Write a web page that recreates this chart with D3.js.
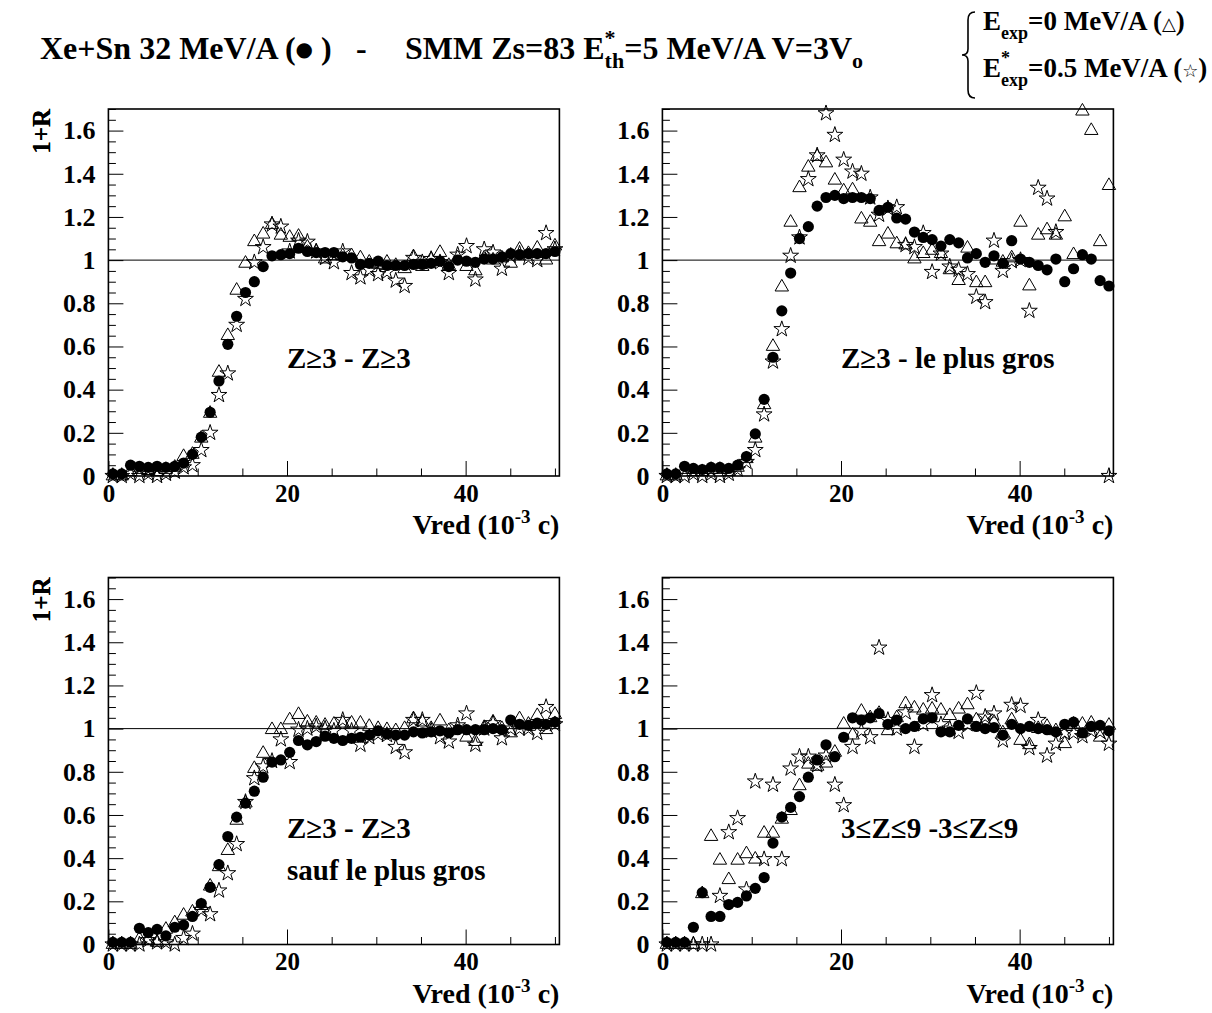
<!DOCTYPE html>
<html><head><meta charset="utf-8">
<script src="https://cdn.jsdelivr.net/npm/d3@7"></script>
<style>
body{margin:0;background:#fff;}
svg{display:block;background:#fff;}
text{font-family:"Liberation Serif","Times New Roman",serif;font-weight:bold;fill:#000;}
</style></head><body>
<svg id="c" width="1212" height="1013"></svg>
<script>
// ---------- data ----------
const vred = [0.50,1.49,2.48,3.47,4.46,5.45,6.44,7.43,8.42,9.41,10.40,11.39,12.38,13.37,14.36,15.35,16.34,17.33,18.32,19.31,20.30,21.29,22.28,23.27,24.26,25.25,26.24,27.23,28.22,29.21,30.20,31.19,32.18,33.17,34.16,35.15,36.14,37.13,38.12,39.11,40.10,41.09,42.08,43.07,44.06,45.05,46.04,47.03,48.02,49.01,50.00];

// Panel 1 : Z>=3 - Z>=3
const circ1 = [0.01,0.01,0.05,0.045,0.04,0.045,0.04,0.045,0.06,0.10,0.18,0.295,0.44,0.61,0.74,0.85,0.90,0.97,1.02,1.025,1.03,1.055,1.04,1.035,1.035,1.035,1.015,1.01,0.98,0.985,0.995,0.975,0.975,0.975,0.98,0.98,0.985,0.995,0.97,1.0,0.995,0.99,1.005,1.005,1.015,1.03,1.025,1.03,1.03,1.03,1.04];
const tri1  = [0.0,0.0,0.02,0.03,0.025,0.02,0.03,0.04,0.09,0.10,0.175,0.29,0.48,0.65,0.86,0.985,1.085,1.12,1.165,1.115,1.105,1.11,1.06,1.04,1.005,1.02,1.02,1.02,1.01,0.99,0.98,0.99,0.975,0.96,1.015,0.97,1.005,1.035,0.975,1.01,0.97,0.95,1.01,1.0,1.01,0.985,1.05,1.03,1.055,1.0,1.065];
const star1 = [0.0,0.0,0.01,0.0,0.01,0.0,0.01,0.02,0.04,0.05,0.12,0.20,0.375,0.475,0.70,0.82,0.99,1.06,1.165,1.155,1.04,1.09,1.085,1.04,1.01,0.99,1.04,0.94,0.92,0.955,0.935,0.945,0.905,0.88,1.01,0.99,1.005,0.99,0.94,1.025,1.065,0.91,1.05,1.035,0.96,1.02,1.03,1.01,1.0,1.125,1.05];

// Panel 2 : Z>=3 - le plus gros
const circ2 = [0.01,0.01,0.045,0.035,0.03,0.04,0.04,0.035,0.05,0.09,0.195,0.355,0.55,0.765,0.94,1.10,1.155,1.25,1.29,1.30,1.285,1.29,1.29,1.285,1.23,1.245,1.195,1.19,1.13,1.105,1.095,1.065,1.095,1.08,1.01,1.03,0.99,1.02,0.985,1.09,1.005,0.99,0.975,0.955,1.005,0.90,0.96,1.025,1.005,0.905,0.88];
const tri2  = [0.0,0.0,0.03,0.02,0.02,0.03,0.03,0.02,0.04,0.08,0.175,0.33,0.60,0.875,1.175,1.335,1.43,1.48,1.45,1.37,1.32,1.325,1.19,1.175,1.085,1.12,1.075,1.07,1.005,1.03,1.045,1.03,0.955,0.905,1.055,0.895,0.895,1.0,0.99,1.01,1.175,0.88,1.115,1.14,1.115,1.20,1.025,1.69,1.60,1.085,1.345];
const star2 = [0.0,0.0,0.0,0.01,0.0,0.01,0.0,0.01,0.03,0.065,0.12,0.285,0.53,0.68,1.02,1.105,1.375,1.485,1.68,1.58,1.465,1.41,1.40,1.29,1.21,1.24,1.245,1.07,1.06,1.125,0.945,1.03,0.97,0.955,0.935,0.83,0.805,1.09,0.95,0.995,1.0,0.765,1.335,1.285,1.13,1.8,1.85,1.9,1.8,1.9,0.0];

// Panel 3 : Z>=3 - Z>=3 sauf le plus gros
const circ3 = [0.01,0.01,0.01,0.075,0.055,0.07,0.04,0.08,0.09,0.13,0.19,0.265,0.37,0.50,0.59,0.655,0.71,0.775,0.845,0.855,0.89,0.945,0.925,0.94,0.965,0.955,0.945,0.955,0.96,0.97,0.99,0.975,0.97,0.97,0.985,0.98,0.985,0.99,0.98,0.995,0.995,0.995,0.995,1.0,0.995,1.04,1.02,1.015,1.025,1.02,1.03];
const tri3  = [0.0,0.0,0.0,0.025,0.02,0.01,0.07,0.10,0.135,0.15,0.18,0.27,0.36,0.435,0.575,0.655,0.815,0.885,0.995,0.995,1.04,1.065,1.03,1.025,1.015,1.02,1.025,1.025,1.025,1.01,1.0,0.995,0.99,1.0,1.045,1.03,1.0,1.035,0.99,1.0,0.96,0.94,1.005,1.03,1.0,0.98,1.045,1.02,1.06,0.995,1.065];
const star3 = [0.0,0.0,0.0,0.0,0.02,0.01,0.01,0.0,0.03,0.05,0.16,0.14,0.25,0.33,0.465,0.66,0.77,0.825,0.85,0.95,0.845,0.995,1.0,1.01,1.0,0.99,1.04,0.99,0.925,0.96,0.975,0.97,0.915,0.89,1.04,1.04,0.99,0.96,0.94,1.015,1.07,0.925,1.0,1.025,0.955,1.0,1.0,1.0,0.98,1.10,1.02];

// Panel 4 : 3<=Z<=9 - 3<=Z<=9
const circ4 = [0.01,0.01,0.01,0.08,0.24,0.13,0.13,0.185,0.195,0.225,0.26,0.31,0.47,0.59,0.635,0.685,0.775,0.855,0.925,0.87,0.96,1.05,1.04,1.05,1.07,1.02,1.04,1.0,1.01,1.045,1.05,0.985,0.985,1.015,1.045,1.01,1.0,1.005,0.97,1.02,1.0,1.01,1.0,0.995,0.985,1.02,1.03,0.98,1.01,1.015,0.99];
const tri4  = [0.0,0.0,0.0,0.0,0.235,0.50,0.39,0.30,0.39,0.42,0.395,0.515,0.515,0.58,0.62,0.735,0.835,0.825,0.84,0.89,1.02,0.97,1.08,1.05,1.07,0.99,1.05,1.115,1.095,1.085,1.09,1.085,1.06,1.09,1.11,1.04,1.03,1.03,0.98,1.04,0.945,0.925,1.0,1.01,0.99,0.93,1.02,1.02,1.025,0.96,1.015];
const star4 = [0.0,0.0,0.0,0.0,0.0,0.0,0.225,0.52,0.585,0.255,0.755,0.395,0.74,0.395,0.815,0.87,0.87,0.83,0.875,0.74,0.645,0.915,0.99,0.96,1.375,1.04,1.0,1.075,0.915,1.02,1.155,1.02,1.0,0.985,1.02,1.165,1.055,1.07,0.945,1.11,1.105,0.91,1.04,0.875,0.93,0.98,0.98,0.965,0.99,0.985,0.93];

const xMajorTicks = [0, 20, 40];
const xTickLabels = ["0", "20", "40"];
const yMajorTicks = [0, 0.2, 0.4, 0.6, 0.8, 1.0, 1.2, 1.4, 1.6];
const yTickLabels = ["0", "0.2", "0.4", "0.6", "0.8", "1", "1.2", "1.4", "1.6"];
const panelLabels = [["Z≥3 - Z≥3"], ["Z≥3 - le plus gros"], ["Z≥3 - Z≥3", "sauf le plus gros"], ["3≤Z≤9 -3≤Z≤9"]];
const panelSeries = [[circ1, tri1, star1], [circ2, tri2, star2], [circ3, tri3, star3], [circ4, tri4, star4]];

// ---------- layout ----------
const svg = d3.select("#c");
const layout = [
  {x0: 108.4, y0: 109, lx: 287, ly: [368]},
  {x0: 662.4, y0: 109, lx: 841, ly: [368]},
  {x0: 108.4, y0: 577.5, lx: 287, ly: [838, 880]},
  {x0: 662.4, y0: 577.5, lx: 841, ly: [838]}
];
const W = 451, H = 367;
const xMinor = d3.range(0, 50.01, 5).filter(v => !xMajorTicks.includes(v));
const yMinor = d3.range(0, 1.7001, 0.05).map(v => +v.toFixed(2)).filter(v => Math.abs(v / 0.2 - Math.round(v / 0.2)) > 1e-6);

const triPath = d3.symbol(d3.symbolTriangle, 78)();
const starPath = d3.symbol(d3.symbolStar, 78)();

layout.forEach((L, pi) => {
  const g = svg.append("g");
  const x = d3.scaleLinear().domain([0, 50.5]).range([L.x0, L.x0 + W]);
  const y = d3.scaleLinear().domain([0, 1.7]).range([L.y0 + H, L.y0]);

  // y axis major + labels
  const yAx = d3.axisLeft(y).tickValues(yMajorTicks).tickSizeInner(-15).tickSizeOuter(0).tickPadding(13)
    .tickFormat((d, i) => yTickLabels[i]);
  const ya = g.append("g").attr("transform", `translate(${L.x0},0)`).call(yAx);
  ya.select(".domain").remove();
  ya.selectAll("text").attr("font-size", 26).attr("font-family", null);
  ya.selectAll("line").attr("stroke", "#000").attr("stroke-width", 1);
  const yAm = d3.axisLeft(y).tickValues(yMinor).tickSizeInner(-7.5).tickSizeOuter(0).tickFormat("");
  const yam = g.append("g").attr("transform", `translate(${L.x0},0)`).call(yAm);
  yam.select(".domain").remove();
  yam.selectAll("line").attr("stroke", "#000").attr("stroke-width", 1);

  // x axis
  const xAx = d3.axisBottom(x).tickValues(xMajorTicks).tickSizeInner(-15).tickSizeOuter(0).tickPadding(8)
    .tickFormat((d, i) => xTickLabels[i]);
  const xa = g.append("g").attr("transform", `translate(0,${L.y0 + H})`).call(xAx);
  xa.select(".domain").remove();
  xa.selectAll("text").attr("font-size", 25).attr("font-family", null);
  xa.selectAll("line").attr("stroke", "#000").attr("stroke-width", 1);
  const xAm = d3.axisBottom(x).tickValues(xMinor).tickSizeInner(-7.5).tickSizeOuter(0).tickFormat("");
  const xam = g.append("g").attr("transform", `translate(0,${L.y0 + H})`).call(xAm);
  xam.select(".domain").remove();
  xam.selectAll("line").attr("stroke", "#000").attr("stroke-width", 1);

  // reference line y = 1
  g.append("line").attr("x1", x(0)).attr("x2", x(50.5)).attr("y1", y(1)).attr("y2", y(1))
    .attr("stroke", "#000").attr("stroke-width", 1);

  // axis titles
  const xt = g.append("text").attr("x", x(50.5)).attr("y", L.y0 + H + 58).attr("text-anchor", "end").attr("font-size", 28);
  xt.append("tspan").text("Vred (10");
  xt.append("tspan").attr("dy", -11).attr("font-size", 19).text("-3");
  xt.append("tspan").attr("dy", 11).text(" c)");
  g.append("text").attr("transform", `translate(50,${L.y0})rotate(-90)`).attr("text-anchor", "end")
    .attr("font-size", 25).text("1+R");

  // panel labels
  panelLabels[pi].forEach((t, k) => {
    g.append("text").attr("x", L.lx).attr("y", L.ly[k]).attr("font-size", 29).text(t);
  });

  // markers
  const [circ, tri, star] = panelSeries[pi];
  const inR = v => v != null && v >= 0 && v <= 1.7;
  g.append("g").selectAll("path").data(vred.map((v, i) => [v, tri[i]]).filter(d => inR(d[1]))).join("path")
    .attr("d", triPath).attr("transform", d => `translate(${x(d[0])},${y(d[1])})`)
    .attr("fill", "none").attr("stroke", "#000").attr("stroke-width", 1);
  g.append("g").selectAll("path").data(vred.map((v, i) => [v, star[i]]).filter(d => inR(d[1]))).join("path")
    .attr("d", starPath).attr("transform", d => `translate(${x(d[0])},${y(d[1])})`)
    .attr("fill", "none").attr("stroke", "#000").attr("stroke-width", 1);
  g.append("g").selectAll("circle").data(vred.map((v, i) => [v, circ[i]]).filter(d => inR(d[1]))).join("circle")
    .attr("cx", d => x(d[0])).attr("cy", d => y(d[1])).attr("r", 5.6).attr("fill", "#000");

  // frame
  g.append("rect").attr("x", L.x0).attr("y", L.y0).attr("width", W).attr("height", H)
    .attr("fill", "none").attr("stroke", "#000").attr("stroke-width", 1.6);
});

// ---------- title ----------
const tA = svg.append("text").attr("x", 40).attr("y", 59).attr("font-size", 32);
tA.append("tspan").text("Xe+Sn 32 MeV/A (");
tA.append("tspan").attr("font-family", "DejaVu Sans").attr("font-size", 20).attr("dy", -3).text("●");
tA.append("tspan").attr("dy", 3).text(" )");
svg.append("text").attr("x", 356).attr("y", 59).attr("font-size", 32).text("-");
const tC = svg.append("text").attr("x", 405).attr("y", 59).attr("font-size", 32);
tC.append("tspan").text("SMM Zs=83 E");
tC.append("tspan").attr("dy", -14).attr("font-size", 22).text("*");
tC.append("tspan").attr("dx", -11).attr("dy", 23).attr("font-size", 22).text("th");
tC.append("tspan").attr("dy", -9).text("=5 MeV/A V=3V");
tC.append("tspan").attr("dy", 9).attr("font-size", 22).text("o");

// legend brace
svg.append("path").attr("d", "M975,12 Q968,12 968,20 L968,49 Q968,55 962,55 Q968,55 968,61 L968,90 Q968,98 975,98")
  .attr("fill", "none").attr("stroke", "#000").attr("stroke-width", 1.6);
const l1 = svg.append("text").attr("x", 983).attr("y", 30).attr("font-size", 27);
l1.append("tspan").text("E");
l1.append("tspan").attr("dy", 9).attr("font-size", 18).text("exp");
l1.append("tspan").attr("dy", -9).text("=0 MeV/A (");
l1.append("tspan").attr("font-family", "DejaVu Sans").attr("font-weight", "normal").attr("font-size", 18).text("△");
l1.append("tspan").text(")");
const l2 = svg.append("text").attr("x", 983).attr("y", 77).attr("font-size", 27);
l2.append("tspan").text("E");
l2.append("tspan").attr("dy", -13).attr("font-size", 18).text("*");
l2.append("tspan").attr("dx", -9).attr("dy", 22).attr("font-size", 18).text("exp");
l2.append("tspan").attr("dy", -9).text("=0.5 MeV/A (");
l2.append("tspan").attr("font-family", "DejaVu Sans").attr("font-weight", "normal").attr("font-size", 18).text("☆");
l2.append("tspan").text(")");
</script>
</body></html>
